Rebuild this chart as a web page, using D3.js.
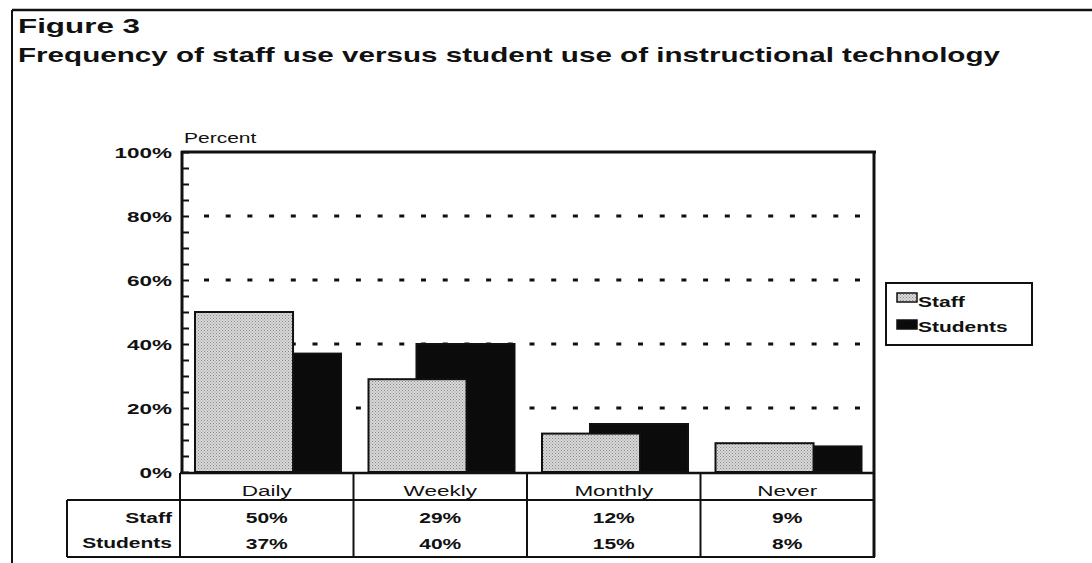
<!DOCTYPE html>
<html>
<head>
<meta charset="utf-8">
<script src="https://cdn.jsdelivr.net/npm/d3@7"></script>
<style>
  body { margin: 0; background: #fff; }
  text { font-family: "Liberation Sans", Arial, sans-serif; fill: #111; }
</style>
</head>
<body>
<div id="chart"></div>
<script>
var categories = ["Daily", "Weekly", "Monthly", "Never"];
var staff = [50, 29, 12, 9];
var students = [37, 40, 15, 8];
var seriesNames = ["Staff", "Students"];
var yTicks = [0, 20, 40, 60, 80, 100];
var gridTicks = [20, 40, 60, 80];

var width = 1092, height = 563;
var SX = 1.5; // the scanned figure is stretched sideways

var svg = d3.select("#chart").append("svg")
  .attr("width", width)
  .attr("height", height);

// stretched text helper
function label(x, y, str, size, weight, anchor) {
  return svg.append("text")
    .attr("transform", "translate(" + x + "," + y + ") scale(" + SX + ",1)")
    .attr("text-anchor", anchor || "start")
    .style("font-size", size + "px")
    .style("font-weight", weight || "normal")
    .text(str);
}

// pattern for staff bars
var defs = svg.append("defs");
var pat = defs.append("pattern")
  .attr("id", "dots")
  .attr("width", 3).attr("height", 3)
  .attr("patternUnits", "userSpaceOnUse");
pat.append("rect").attr("width", 3).attr("height", 3).attr("fill", "#d8d8d8");
pat.append("rect").attr("x", 0).attr("y", 0).attr("width", 1).attr("height", 1).attr("fill", "#8a8a8a");
pat.append("rect").attr("x", 1.5).attr("y", 1.5).attr("width", 1).attr("height", 1).attr("fill", "#9a9a9a");

// outer frame
svg.append("line").attr("x1", 12).attr("x2", width).attr("y1", 10).attr("y2", 10)
  .attr("stroke", "#111").attr("stroke-width", 2.5);
svg.append("line").attr("x1", 12).attr("x2", 12).attr("y1", 10).attr("y2", height)
  .attr("stroke", "#111").attr("stroke-width", 2);

// titles
svg.append("text").attr("x", 18).attr("y", 33)
  .attr("textLength", 122).attr("lengthAdjust", "spacingAndGlyphs")
  .style("font-size", "21px").style("font-weight", "bold")
  .text("Figure 3");
svg.append("text").attr("x", 18).attr("y", 62)
  .attr("textLength", 982).attr("lengthAdjust", "spacingAndGlyphs")
  .style("font-size", "21px").style("font-weight", "bold")
  .text("Frequency of staff use versus student use of instructional technology");

// scales
var x = d3.scaleBand().domain(categories).range([180, 874]).padding(0);
var y = d3.scaleLinear().domain([0, 100]).range([472, 152]);
var bw = x.bandwidth();

// gridlines
svg.append("g").selectAll("line")
  .data(gridTicks)
  .enter().append("line")
  .attr("x1", 204).attr("x2", 866)
  .attr("y1", function(d) { return y(d); })
  .attr("y2", function(d) { return y(d); })
  .attr("stroke", "#111")
  .attr("stroke-width", 3)
  .attr("stroke-dasharray", "5,16.7");

// bars: students behind, staff on top
var rows = categories.map(function(c, i) { return { cat: c, staff: staff[i], students: students[i] }; });

svg.append("g").selectAll("rect")
  .data(rows)
  .enter().append("rect")
  .attr("x", function(d) { return x(d.cat) + bw * 0.363; })
  .attr("width", bw * 0.565)
  .attr("y", function(d) { return y(d.students); })
  .attr("height", function(d) { return y(0) - y(d.students); })
  .attr("fill", "#0b0b0b")
  .attr("stroke", "#111").attr("stroke-width", 2);

svg.append("g").selectAll("rect")
  .data(rows)
  .enter().append("rect")
  .attr("x", function(d) { return x(d.cat) + bw * 0.0865; })
  .attr("width", bw * 0.565)
  .attr("y", function(d) { return y(d.staff); })
  .attr("height", function(d) { return y(0) - y(d.staff); })
  .attr("fill", "url(#dots)")
  .attr("stroke", "#111").attr("stroke-width", 2);

// y axis with minor ticks
var yAxis = d3.axisLeft(y)
  .tickValues(d3.range(0, 101, 5))
  .tickSize(-7)
  .tickFormat("");
svg.append("g")
  .attr("transform", "translate(182,0)")
  .call(yAxis)
  .call(function(g) {
    g.select(".domain").remove();
    g.selectAll(".tick line").attr("stroke", "#111").attr("stroke-width", 2);
  });
svg.append("line").attr("x1", 182).attr("x2", 182).attr("y1", 151).attr("y2", 473)
  .attr("stroke", "#111").attr("stroke-width", 3);

yTicks.forEach(function(t) {
  label(172, y(t) + 5.5, t + "%", 15, "bold", "end");
});
label(184, 143, "Percent", 14, "normal", "start");

// plot frame top and right
svg.append("line").attr("x1", 181).attr("x2", 876).attr("y1", 152).attr("y2", 152)
  .attr("stroke", "#111").attr("stroke-width", 3);
svg.append("line").attr("x1", 874).attr("x2", 874).attr("y1", 151).attr("y2", 557)
  .attr("stroke", "#111").attr("stroke-width", 3);

// data table under the chart
var tableTop = 473, headBottom = 500, tableBottom = 557, tableLeft = 67;
svg.append("line").attr("x1", 180).attr("x2", 875).attr("y1", tableTop).attr("y2", tableTop)
  .attr("stroke", "#111").attr("stroke-width", 2.5);
svg.append("line").attr("x1", tableLeft).attr("x2", 875).attr("y1", headBottom).attr("y2", headBottom)
  .attr("stroke", "#111").attr("stroke-width", 2);
svg.append("line").attr("x1", tableLeft).attr("x2", 875).attr("y1", tableBottom).attr("y2", tableBottom)
  .attr("stroke", "#111").attr("stroke-width", 2);
svg.append("line").attr("x1", tableLeft).attr("x2", tableLeft).attr("y1", headBottom).attr("y2", tableBottom)
  .attr("stroke", "#111").attr("stroke-width", 2);
svg.append("g").selectAll("line")
  .data(categories)
  .enter().append("line")
  .attr("x1", function(d) { return x(d); })
  .attr("x2", function(d) { return x(d); })
  .attr("y1", tableTop).attr("y2", tableBottom)
  .attr("stroke", "#111").attr("stroke-width", 2);

categories.forEach(function(c, i) {
  var cx = x(c) + bw / 2;
  label(cx, 496, c, 15, "normal", "middle");
  label(cx, 523, staff[i] + "%", 14, "bold", "middle");
  label(cx, 549, students[i] + "%", 14, "bold", "middle");
});
label(172, 523, seriesNames[0], 14, "bold", "end");
label(172, 548, seriesNames[1], 14, "bold", "end");

// legend
var lg = svg.append("g");
lg.append("rect").attr("x", 886).attr("y", 283).attr("width", 146).attr("height", 62)
  .attr("fill", "#fff").attr("stroke", "#111").attr("stroke-width", 2);
lg.append("rect").attr("x", 897).attr("y", 293).attr("width", 20).attr("height", 9)
  .attr("fill", "url(#dots)").attr("stroke", "#111").attr("stroke-width", 1.5);
lg.append("rect").attr("x", 897).attr("y", 320).attr("width", 20).attr("height", 9)
  .attr("fill", "#0b0b0b").attr("stroke", "#111").attr("stroke-width", 1.5);
label(918, 307, seriesNames[0], 14, "bold", "start");
label(918, 332, seriesNames[1], 14, "bold", "start");
</script>
</body>
</html>
